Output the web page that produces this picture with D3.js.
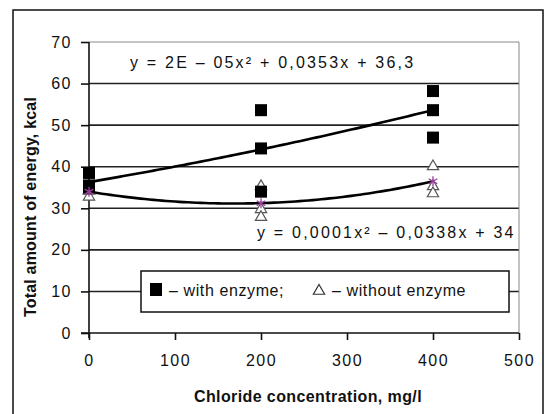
<!DOCTYPE html>
<html>
<head>
<meta charset="utf-8">
<script src="https://cdn.jsdelivr.net/npm/d3@7"></script>
<style>
  body { margin: 0; background: #fff; }
  text { font-family: "Liberation Sans", Arial, sans-serif; fill: #111; }
</style>
</head>
<body>
<svg id="chart" width="552" height="414"></svg>
<script>
// Chart data
var enzymeDose   = [0, 0, 0, 200, 200, 200, 400, 400, 400];
var enzymeEnergy = [38.5, 35.5, 35, 53.6, 44.4, 34, 58.2, 53.6, 47];
var plainDose    = [0, 0, 0, 200, 200, 200, 400, 400, 400];
var plainEnergy  = [33, 34.5, 34.5, 35.5, 30, 28.1, 40.3, 35.5, 33.8];
var meanDose     = [0, 200, 400];
var meanEnergy   = [34, 31.2, 36.5];
// trendline coefficients as printed: a*x^2 + b*x + c
var fitEnzyme = [2e-5, 0.0353, 36.3];
var fitPlain  = [0.0001, -0.0338, 34];
var xTicks = [0, 100, 200, 300, 400, 500];
var yTicks = [0, 10, 20, 30, 40, 50, 60, 70];
var eqEnzyme = "y = 2E \u2013 05x\u00b2 + 0,0353x + 36,3";
var eqPlain  = "y = 0,0001x\u00b2 \u2013 0,0338x + 34";
var xTitle = "Chloride concentration, mg/l";
var yTitle = "Total amount of energy, kcal";
var legendLabels = ["\u2013 with enzyme;", "\u2013 without enzyme"];

var svg = d3.select("#chart");

// outer frame
svg.append("rect").attr("x", 13).attr("y", 10).attr("width", 530).attr("height", 420)
  .attr("fill", "none").attr("stroke", "#111").attr("stroke-width", 1.5);

var plotL = 89, plotR = 519, plotT = 42, plotB = 333;
var x = d3.scaleLinear().domain([0, 500]).range([plotL, plotR]);
var y = d3.scaleLinear().domain([0, 70]).range([plotB, plotT]);

// grid lines
svg.append("g").selectAll("line").data(yTicks.filter(function(d){ return d > 0; })).enter()
  .append("line")
  .attr("x1", plotL).attr("x2", plotR)
  .attr("y1", function(d){ return y(d); }).attr("y2", function(d){ return y(d); })
  .attr("stroke", function(d){ return d == 70 ? "#888" : "#222"; })
  .attr("stroke-width", function(d){ return d == 70 ? 1 : 1.6; });
// right border of plot
svg.append("line").attr("x1", plotR).attr("x2", plotR).attr("y1", plotT).attr("y2", plotB)
  .attr("stroke", "#888").attr("stroke-width", 1);

// axes
var yAxis = svg.append("g").attr("transform", "translate(" + plotL + ",0)")
  .call(d3.axisLeft(y).tickValues(yTicks).tickSize(8).tickPadding(9));
var xAxis = svg.append("g").attr("transform", "translate(0," + plotB + ")")
  .call(d3.axisBottom(x).tickValues(xTicks).tickSize(7).tickPadding(15));
[xAxis, yAxis].forEach(function(ax){
  ax.select(".domain").attr("stroke", "#111").attr("stroke-width", 1.6);
  ax.selectAll(".tick line").attr("stroke", "#111").attr("stroke-width", 1.6);
  ax.selectAll(".tick text").attr("font-size", 16).attr("fill", "#222")
    .style("letter-spacing", "1.5px").attr("font-family", "Liberation Sans, Arial, sans-serif");
});
yAxis.select(".domain").attr("d", "M0," + plotT + "V" + (plotB + 5));
xAxis.select(".domain").attr("d", "M" + (plotL - 8) + ",0H" + plotR);

// trend lines
function quad(c) {
  return d3.range(0, 401, 5).map(function(v){ return [v, c[0]*v*v + c[1]*v + c[2]]; });
}
var line = d3.line().x(function(d){ return x(d[0]); }).y(function(d){ return y(d[1]); });
[fitEnzyme, fitPlain].forEach(function(c){
  svg.append("path").attr("d", line(quad(c))).attr("fill", "none")
    .attr("stroke", "#000").attr("stroke-width", 2.6);
});

// markers
var tri = d3.symbol().type(d3.symbolTriangle).size(55);
svg.append("g").selectAll("path").data(plainEnergy).enter().append("path")
  .attr("d", tri)
  .attr("transform", function(d, i){ return "translate(" + x(plainDose[i]) + "," + (y(d) + 1) + ")"; })
  .attr("fill", "#fff").attr("stroke", "#555").attr("stroke-width", 1.2);

svg.append("g").selectAll("rect").data(enzymeEnergy).enter().append("rect")
  .attr("x", function(d, i){ return x(enzymeDose[i]) - 6; })
  .attr("y", function(d){ return y(d) - 6; })
  .attr("width", 12).attr("height", 12).attr("fill", "#000");

var star = d3.symbol().type(d3.symbolAsterisk).size(70);
svg.append("g").selectAll("path").data(meanEnergy).enter().append("path")
  .attr("d", star)
  .attr("transform", function(d, i){ return "translate(" + x(meanDose[i]) + "," + y(d) + ")"; })
  .attr("fill", "none").attr("stroke", "#9a3c9e").attr("stroke-width", 1.3);

// equations
svg.append("text").attr("x", 130).attr("y", 68).attr("font-size", 16)
  .style("letter-spacing", "2.2px").text(eqEnzyme);
svg.append("text").attr("x", 257).attr("y", 238).attr("font-size", 16)
  .style("letter-spacing", "2.2px").text(eqPlain);

// legend
var lg = svg.append("g");
lg.append("rect").attr("x", 141).attr("y", 271).attr("width", 368).attr("height", 41)
  .attr("fill", "#fff").attr("stroke", "#111").attr("stroke-width", 1.5);
lg.append("rect").attr("x", 150).attr("y", 283).attr("width", 12).attr("height", 13).attr("fill", "#000");
lg.append("text").attr("x", 169).attr("y", 296).attr("font-size", 16)
  .style("letter-spacing", "0.6px").text(legendLabels[0]);
lg.append("path").attr("d", tri).attr("transform", "translate(319,291)")
  .attr("fill", "#fff").attr("stroke", "#333").attr("stroke-width", 1.2);
lg.append("text").attr("x", 332).attr("y", 296).attr("font-size", 16)
  .style("letter-spacing", "0.6px").text(legendLabels[1]);

// axis titles
svg.append("text").attr("x", 308).attr("y", 402).attr("text-anchor", "middle")
  .attr("font-size", 16).attr("font-weight", "bold").style("letter-spacing", "0.4px").text(xTitle);
svg.append("text").attr("transform", "translate(36,207) rotate(-90)").attr("text-anchor", "middle")
  .attr("font-size", 16).attr("font-weight", "bold").style("letter-spacing", "0.2px").text(yTitle);
</script>
</body>
</html>
